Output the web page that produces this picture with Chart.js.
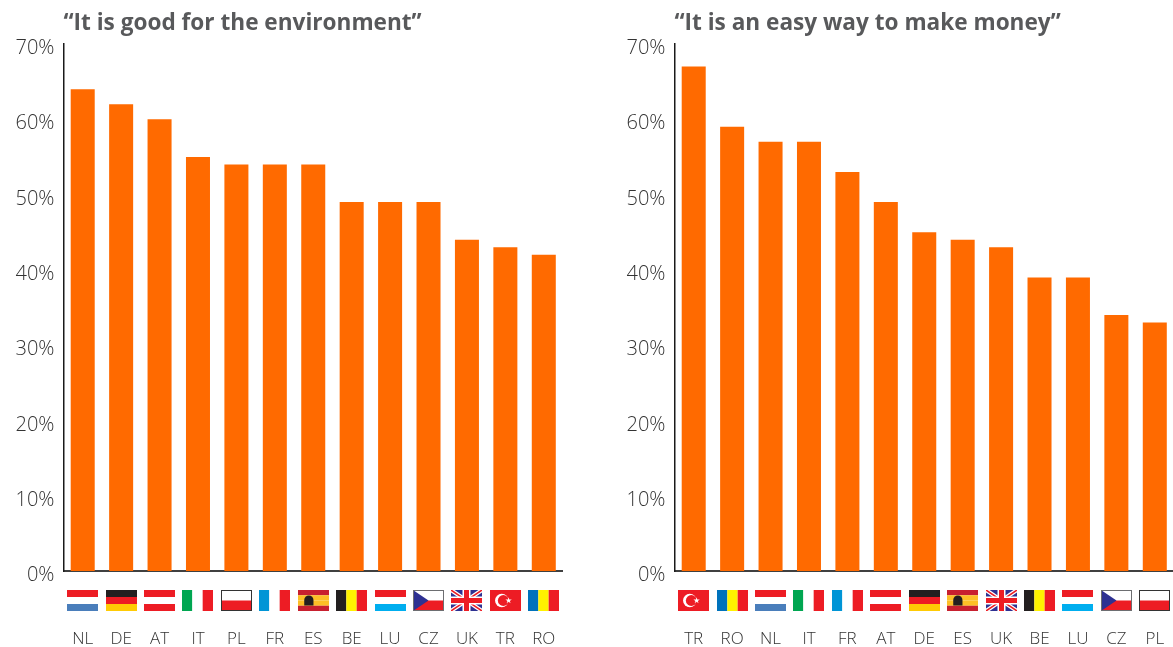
<!DOCTYPE html>
<html>
<head>
<meta charset="utf-8">
<title>Chart</title>
<script src="https://cdn.jsdelivr.net/npm/chart.js@4/dist/chart.umd.min.js"></script>
<style>
  html, body { margin: 0; padding: 0; background: #fff; overflow: hidden; width: 1173px; height: 647px; }
  canvas { position: absolute; top: 0; }
  #envChart { left: 0; }
  #moneyChart { left: 611px; }
</style>
</head>
<body>
<canvas id="envChart" width="563" height="647"></canvas>
<canvas id="moneyChart" width="563" height="647"></canvas>
<script>
const envTitle = '“It is good for the environment”';
const envCountries = ['NL', 'DE', 'AT', 'IT', 'PL', 'FR', 'ES', 'BE', 'LU', 'CZ', 'UK', 'TR', 'RO'];
const envValues = [64, 62, 60, 55, 54, 54, 54, 49, 49, 49, 44, 43, 42];

const moneyTitle = '“It is an easy way to make money”';
const moneyCountries = ['TR', 'RO', 'NL', 'IT', 'FR', 'AT', 'DE', 'ES', 'UK', 'BE', 'LU', 'CZ', 'PL'];
const moneyValues = [67, 59, 57, 57, 53, 49, 45, 44, 43, 39, 39, 34, 33];

const RED = '#ed1c24';
const WHITE = '#ffffff';

function stripes(ctx, x, y, w, h, vertical, colors) {
  colors.forEach((c, i) => {
    ctx.fillStyle = c;
    if (vertical) ctx.fillRect(x + w * i / colors.length, y, w / colors.length, h);
    else ctx.fillRect(x, y + h * i / colors.length, w, h / colors.length);
  });
}

function drawFlag(ctx, code, x, y, w, h) {
  ctx.save();
  ctx.beginPath();
  ctx.rect(x, y, w, h);
  ctx.clip();
  if (code === 'NL') stripes(ctx, x, y, w, h, false, [RED, WHITE, '#4a7ebb']);
  if (code === 'DE') stripes(ctx, x, y, w, h, false, ['#231f20', RED, '#ffcb05']);
  if (code === 'AT') stripes(ctx, x, y, w, h, false, [RED, WHITE, RED]);
  if (code === 'IT') stripes(ctx, x, y, w, h, true, ['#00a651', WHITE, RED]);
  if (code === 'FR') stripes(ctx, x, y, w, h, true, ['#0095d6', WHITE, RED]);
  if (code === 'BE') stripes(ctx, x, y, w, h, true, ['#231f20', '#fff200', RED]);
  if (code === 'LU') stripes(ctx, x, y, w, h, false, [RED, WHITE, '#00aeef']);
  if (code === 'RO') stripes(ctx, x, y, w, h, true, ['#0072bc', '#fff200', RED]);
  if (code === 'PL') {
    stripes(ctx, x, y, w, h, false, [WHITE, RED]);
  }
  if (code === 'ES') {
    stripes(ctx, x, y, w, h, false, ['#c8202f', '#fdbf26', '#fdbf26', '#c8202f']);
    ctx.fillStyle = '#231f20';
    ctx.beginPath();
    ctx.arc(x + w * 0.35, y + h * 0.48, h * 0.22, Math.PI, 0);
    ctx.lineTo(x + w * 0.35 + h * 0.22, y + h * 0.74);
    ctx.lineTo(x + w * 0.35 - h * 0.22, y + h * 0.74);
    ctx.fill();
  }
  if (code === 'CZ') {
    stripes(ctx, x, y, w, h, false, [WHITE, RED]);
    ctx.fillStyle = '#2e3192';
    ctx.beginPath();
    ctx.moveTo(x, y);
    ctx.lineTo(x + w * 0.5, y + h / 2);
    ctx.lineTo(x, y + h);
    ctx.fill();
  }
  if (code === 'TR') {
    ctx.fillStyle = RED;
    ctx.fillRect(x, y, w, h);
    ctx.fillStyle = WHITE;
    ctx.beginPath();
    ctx.arc(x + w * 0.38, y + h / 2, h * 0.32, 0, Math.PI * 2);
    ctx.fill();
    ctx.fillStyle = RED;
    ctx.beginPath();
    ctx.arc(x + w * 0.43, y + h / 2, h * 0.26, 0, Math.PI * 2);
    ctx.fill();
    ctx.fillStyle = WHITE;
    ctx.beginPath();
    for (let i = 0; i < 10; i++) {
      const r = i % 2 ? h * 0.06 : h * 0.16;
      const a = -Math.PI / 2 + i * Math.PI / 5;
      ctx.lineTo(x + w * 0.6 + r * Math.cos(a), y + h / 2 + r * Math.sin(a));
    }
    ctx.fill();
  }
  if (code === 'UK') {
    ctx.fillStyle = '#2e3192';
    ctx.fillRect(x, y, w, h);
    ctx.lineCap = 'butt';
    const diag = (color, width) => {
      ctx.strokeStyle = color;
      ctx.lineWidth = width;
      ctx.beginPath();
      ctx.moveTo(x, y);
      ctx.lineTo(x + w, y + h);
      ctx.moveTo(x + w, y);
      ctx.lineTo(x, y + h);
      ctx.stroke();
    };
    diag(WHITE, 4);
    diag(RED, 1.5);
    ctx.fillStyle = WHITE;
    ctx.fillRect(x + w / 2 - 4, y, 8, h);
    ctx.fillRect(x, y + h / 2 - 4, w, 8);
    ctx.fillStyle = RED;
    ctx.fillRect(x + w / 2 - 2.5, y, 5, h);
    ctx.fillRect(x, y + h / 2 - 2.5, w, 5);
  }
  ctx.restore();
  if (code === 'PL' || code === 'CZ') {
    ctx.lineWidth = 1;
    ctx.strokeStyle = code === 'PL' ? '#333333' : '#6d6e71';
    ctx.strokeRect(x + 0.5, y + 0.5, w - 1, h - 1);
  }
}

const flagPlugin = {
  id: 'flags',
  afterDraw(chart) {
    const xScale = chart.scales.x;
    chart.data.labels.forEach((code, i) => {
      const cx = xScale.getPixelForValue(i);
      drawFlag(chart.ctx, code, Math.round(cx - 15.5), 590, 31, 21);
    });
  }
};

function makeChart(id, title, countries, values) {
  return new Chart(document.getElementById(id), {
    type: 'bar',
    data: {
      labels: countries,
      datasets: [{
        data: values,
        backgroundColor: '#ff6a00',
        barPercentage: 0.625,
        categoryPercentage: 1
      }]
    },
    plugins: [flagPlugin],
    options: {
      responsive: false,
      animation: false,
      layout: { padding: 0 },
      plugins: {
        legend: { display: false },
        tooltip: { enabled: false },
        title: {
          display: true,
          text: title,
          align: 'start',
          fullSize: false,
          color: '#58595b',
          font: { family: '"Open Sans"', size: 22.6, weight: 'bold', lineHeight: 1.2 },
          padding: { top: 10, bottom: 6.88 }
        }
      },
      scales: {
        x: {
          // the tick padding only makes room for the flags, it must not narrow the plot
          afterFit(scale) {
            scale.height = 76;
            scale.paddingLeft = 0;
            scale.paddingRight = 0;
          },
          grid: { display: false, drawTicks: false },
          border: { color: '#404040', width: 2 },
          ticks: {
            color: '#333333',
            padding: 58,
            maxRotation: 0,
            autoSkip: false,
            font: { family: '"Open Sans"', size: 17, weight: '300' }
          }
        },
        y: {
          min: 0,
          max: 70,
          afterFit(scale) { scale.width = 63.5; },
          grid: { display: false, drawTicks: false },
          border: { color: '#1a1a1a', width: 1.5 },
          ticks: {
            stepSize: 10,
            color: '#333333',
            padding: 9,
            labelOffset: 4.5,
            font: { family: '"Open Sans"', size: 20, weight: '300' },
            callback: v => v + '%'
          }
        }
      }
    }
  });
}

makeChart('envChart', envTitle, envCountries, envValues);
makeChart('moneyChart', moneyTitle, moneyCountries, moneyValues);
</script>
</body>
</html>
